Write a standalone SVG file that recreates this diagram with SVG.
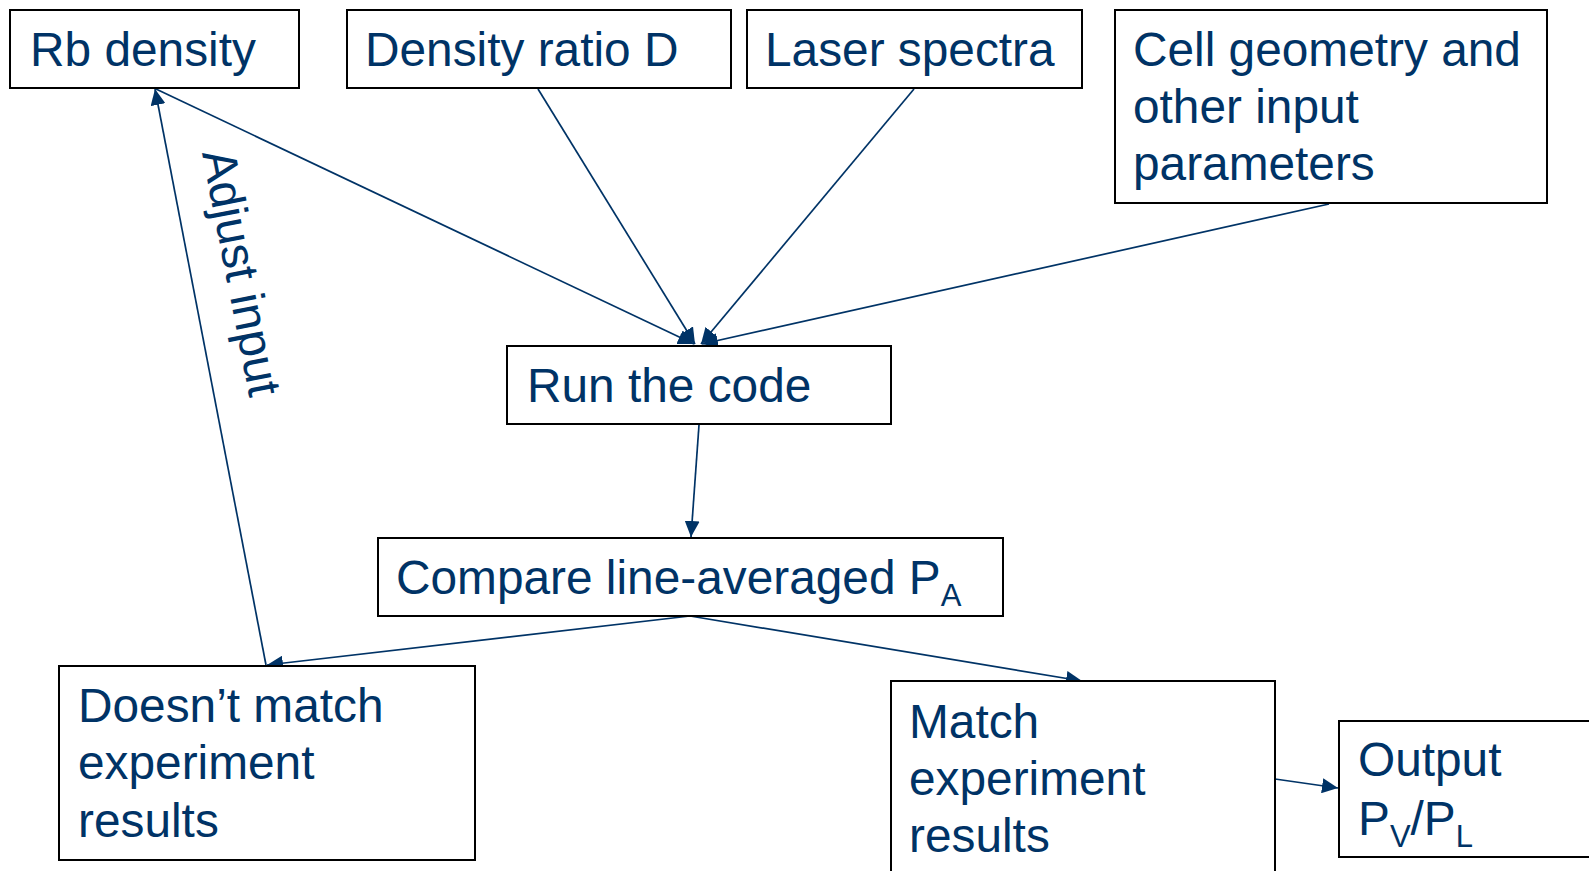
<svg xmlns="http://www.w3.org/2000/svg" width="1589" height="871" viewBox="0 0 1589 871">
  <style>
    .box { fill: #ffffff; stroke: #000000; stroke-width: 2; }
    .lbl { font-family: "Liberation Sans", Arial, sans-serif; font-size: 47.8px; fill: #003366; }
    .sub { font-size: 31px; }
    .edge { stroke: #003366; stroke-width: 1.7; fill: none; marker-end: url(#arrow); }
  </style>
  <defs>
    <marker id="arrow" markerUnits="userSpaceOnUse" markerWidth="16" markerHeight="15" refX="16" refY="7.5" orient="auto">
      <path d="M0,0 L16,7.5 L0,15 Z" fill="#003366"/>
    </marker>
  </defs>

  <rect x="0" y="0" width="1589" height="871" fill="#ffffff"/>

  <!-- connectors -->
  <g id="connectors">
    <line class="edge" x1="156" y1="89" x2="694" y2="344"/>
    <line class="edge" x1="538" y1="89" x2="695" y2="344"/>
    <line class="edge" x1="914" y1="89" x2="701" y2="344"/>
    <line class="edge" x1="1329" y1="204" x2="702" y2="344"/>
    <line class="edge" x1="699" y1="425" x2="691" y2="537"/>
    <line class="edge" x1="690" y1="616" x2="267" y2="665"/>
    <line class="edge" x1="690" y1="616" x2="1082" y2="681"/>
    <line class="edge" x1="266" y1="665" x2="155" y2="89"/>
    <line class="edge" x1="1275" y1="779" x2="1338" y2="788"/>
  </g>

  <!-- inputs -->
  <g id="rb-density">
    <rect class="box" x="10" y="10" width="289" height="78"/>
    <text class="lbl" x="30" y="66">Rb density</text>
  </g>
  <g id="density-ratio">
    <rect class="box" x="347" y="10" width="384" height="78"/>
    <text class="lbl" x="365" y="66">Density ratio D</text>
  </g>
  <g id="laser-spectra">
    <rect class="box" x="747" y="10" width="335" height="78"/>
    <text class="lbl" x="765" y="66">Laser spectra</text>
  </g>
  <g id="cell-geometry">
    <rect class="box" x="1115" y="10" width="432" height="193"/>
    <text class="lbl" x="1133" y="66">Cell geometry and</text>
    <text class="lbl" x="1133" y="123">other input</text>
    <text class="lbl" x="1133" y="180">parameters</text>
  </g>

  <!-- processing -->
  <g id="run-code">
    <rect class="box" x="507" y="346" width="384" height="78"/>
    <text class="lbl" x="527" y="402">Run the code</text>
  </g>
  <g id="compare">
    <rect class="box" x="378" y="538" width="625" height="78"/>
    <text class="lbl" x="396" y="594">Compare line-averaged P<tspan class="sub" dy="12">A</tspan></text>
  </g>

  <!-- outcomes -->
  <g id="no-match">
    <rect class="box" x="59" y="666" width="416" height="194"/>
    <text class="lbl" x="78" y="722">Doesn’t match</text>
    <text class="lbl" x="78" y="779">experiment</text>
    <text class="lbl" x="78" y="837">results</text>
  </g>
  <g id="match">
    <rect class="box" x="891" y="681" width="384" height="200"/>
    <text class="lbl" x="909" y="738">Match</text>
    <text class="lbl" x="909" y="795">experiment</text>
    <text class="lbl" x="909" y="852">results</text>
  </g>
  <g id="output">
    <rect class="box" x="1339" y="721" width="260" height="136"/>
    <text class="lbl" x="1358" y="776">Output</text>
    <text class="lbl" x="1358" y="835">P<tspan class="sub" dy="12">V</tspan><tspan dy="-12">/P</tspan><tspan class="sub" dy="12">L</tspan></text>
  </g>

  <!-- loop label -->
  <g id="adjust-label">
    <text class="lbl" transform="translate(202,153) rotate(79)">Adjust input</text>
  </g>
</svg>
